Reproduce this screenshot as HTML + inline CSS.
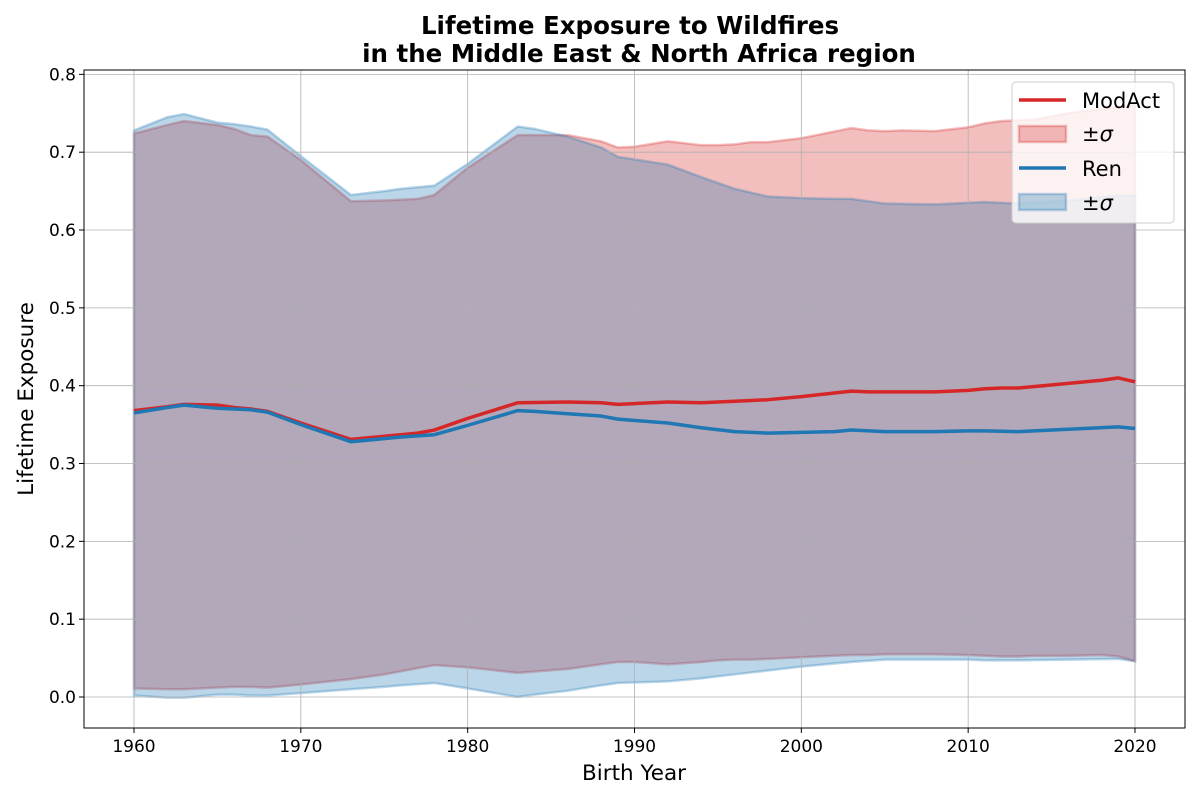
<!DOCTYPE html>
<html><head><meta charset="utf-8"><style>
body{margin:0;background:#fff;font-family:"Liberation Sans","DejaVu Sans",sans-serif;}
svg text{font-family:"DejaVu Sans","Liberation Sans",sans-serif;}
</style></head><body>
<svg id="c" width="1200" height="800"></svg>
<script>
const modYears=[1960,1962,1963,1965,1966,1967,1968,1970,1973,1975,1976,1977,1978,1980,1983,1986,1988,1989,1990,1992,1994,1995,1996,1997,1998,2000,2003,2004,2005,2006,2008,2010,2011,2012,2013,2014,2016,2018,2019,2020];
const modMean=[.368,.373,.376,.375,.372,.370,.367,.352,.331,.335,.337,.339,.343,.358,.378,.379,.378,.376,.377,.379,.378,.379,.380,.381,.382,.386,.393,.392,.392,.392,.392,.394,.396,.397,.397,.399,.403,.407,.410,.405];
const modUpper=[.724,.735,.740,.735,.730,.722,.720,.690,.637,.638,.639,.640,.645,.680,.722,.722,.714,.706,.707,.714,.709,.709,.710,.713,.713,.718,.731,.728,.727,.728,.727,.732,.737,.740,.741,.742,.750,.756,.758,.761];
const modLower=[.011,.010,.010,.012,.013,.013,.012,.016,.023,.029,.033,.037,.041,.038,.031,.036,.042,.045,.045,.042,.045,.047,.048,.048,.049,.051,.054,.054,.055,.055,.055,.054,.053,.052,.052,.053,.053,.054,.052,.046];
const renYears=[1960,1962,1963,1965,1966,1967,1968,1970,1973,1975,1976,1978,1980,1983,1984,1986,1988,1989,1992,1994,1996,1998,2000,2002,2003,2005,2008,2010,2011,2013,2016,2019,2020];
const renMean=[.365,.372,.375,.371,.370,.369,.366,.350,.328,.332,.334,.337,.349,.368,.367,.364,.361,.357,.352,.346,.341,.339,.340,.341,.343,.341,.341,.342,.342,.341,.344,.347,.345];
const renUpper=[.728,.745,.749,.738,.736,.733,.729,.695,.645,.650,.653,.657,.685,.733,.730,.720,.706,.694,.684,.668,.653,.643,.641,.640,.640,.634,.633,.635,.636,.634,.638,.644,.644];
const renLower=[.002,-.001,-.001,.003,.003,.002,.002,.005,.010,.013,.015,.018,.011,.000,.003,.008,.015,.018,.020,.024,.029,.034,.039,.043,.045,.048,.048,.048,.047,.047,.048,.049,.046];
const xTicks=[1960,1970,1980,1990,2000,2010,2020];
const yTicks=[0,0.1,0.2,0.3,0.4,0.5,0.6,0.7,0.8];

const L=84,R=1185,T=70,B=728;
const X=v=>134+(v-1960)*(1001/60);
const Y=v=>697-v*778.3;
const svg=document.getElementById('c');
const NS='http://www.w3.org/2000/svg';
function el(t,a,p){const e=document.createElementNS(NS,t);for(const k in a)e.setAttribute(k,a[k]);(p||svg).appendChild(e);return e;}

function band(xs,up,lo,col,name){
  let d='M'+xs.map((x,i)=>X(x)+','+Y(up[i])).join('L');
  for(let i=xs.length-1;i>=0;i--)d+='L'+X(xs[i])+','+Y(lo[i]);
  d+='Z';
  const p=el('path',{d:d,fill:col,'fill-opacity':0.3,stroke:col,'stroke-opacity':0.3,'stroke-width':2.5});
  
  
}
function line(xs,ys,col,name){
  const p=el('polyline',{points:xs.map((x,i)=>X(x)+','+Y(ys[i])).join(' '),fill:'none',stroke:col,'stroke-width':3.5,'stroke-linejoin':'round'});
  
  
}
band(modYears,modUpper,modLower,'#d62728','modact-sigma-band');
band(renYears,renUpper,renLower,'#1f77b4','ren-sigma-band');

// grid (above fills, below lines)
xTicks.forEach(t=>{const g=el('line',{x1:X(t),x2:X(t),y1:T,y2:B,stroke:'#b0b0b0','stroke-width':0.8});

});
yTicks.forEach(t=>{const g=el('line',{x1:L,x2:R,y1:Y(t),y2:Y(t),stroke:'#b0b0b0','stroke-width':0.8});

});

line(modYears,modMean,'#d62728','modact-mean-line');
line(renYears,renMean,'#1f77b4','ren-mean-line');

const f=el('rect',{x:L,y:T,width:R-L,height:B-T,fill:'none',stroke:'#000','stroke-width':1});



xTicks.forEach(t=>{el('line',{x1:X(t),x2:X(t),y1:B,y2:B+5,stroke:'#000'});
const tx=el('text',{x:X(t),y:B+24,'text-anchor':'middle','font-size':17});tx.textContent=t;

});
yTicks.forEach(t=>{el('line',{x1:L-5,x2:L,y1:Y(t),y2:Y(t),stroke:'#000'});
const tx=el('text',{x:L-8,y:Y(t)+6,'text-anchor':'end','font-size':17});tx.textContent=t.toFixed(1);

});
</script>
<svg width="1200" height="800" style="position:absolute;left:0;top:0">
<text x="630" y="34" text-anchor="middle" font-size="24.5" font-weight="bold">Lifetime Exposure to Wildfires</text>
<text x="639" y="62" text-anchor="middle" font-size="24.5" font-weight="bold">in the Middle East &amp; North Africa region</text>
<text x="634" y="780" text-anchor="middle" font-size="21.5">Birth Year</text>
<text x="33" y="399" text-anchor="middle" font-size="21.5" transform="rotate(-90 33 399)">Lifetime Exposure</text>
<g>
<rect x="1012" y="82" width="162" height="141" rx="4" fill="#fff" fill-opacity="0.8" stroke="#ccc"/>
<line x1="1019" x2="1066" y1="100" y2="100" stroke="#d62728" stroke-width="3.5"/>
<text x="1082" y="108" font-size="21">ModAct</text>
<rect x="1019" y="126" width="47" height="16" fill="#d62728" fill-opacity="0.3" stroke="#d62728" stroke-opacity="0.3" stroke-width="2.5"/>
<text x="1082" y="141" font-size="21">±<tspan font-style="italic">σ</tspan></text>
<line x1="1019" x2="1066" y1="168" y2="168" stroke="#1f77b4" stroke-width="3.5"/>
<text x="1082" y="176" font-size="21">Ren</text>
<rect x="1019" y="194" width="47" height="16" fill="#1f77b4" fill-opacity="0.3" stroke="#1f77b4" stroke-opacity="0.3" stroke-width="2.5"/>
<text x="1082" y="210" font-size="21">±<tspan font-style="italic">σ</tspan></text>
</g>
</svg>
</body></html>
